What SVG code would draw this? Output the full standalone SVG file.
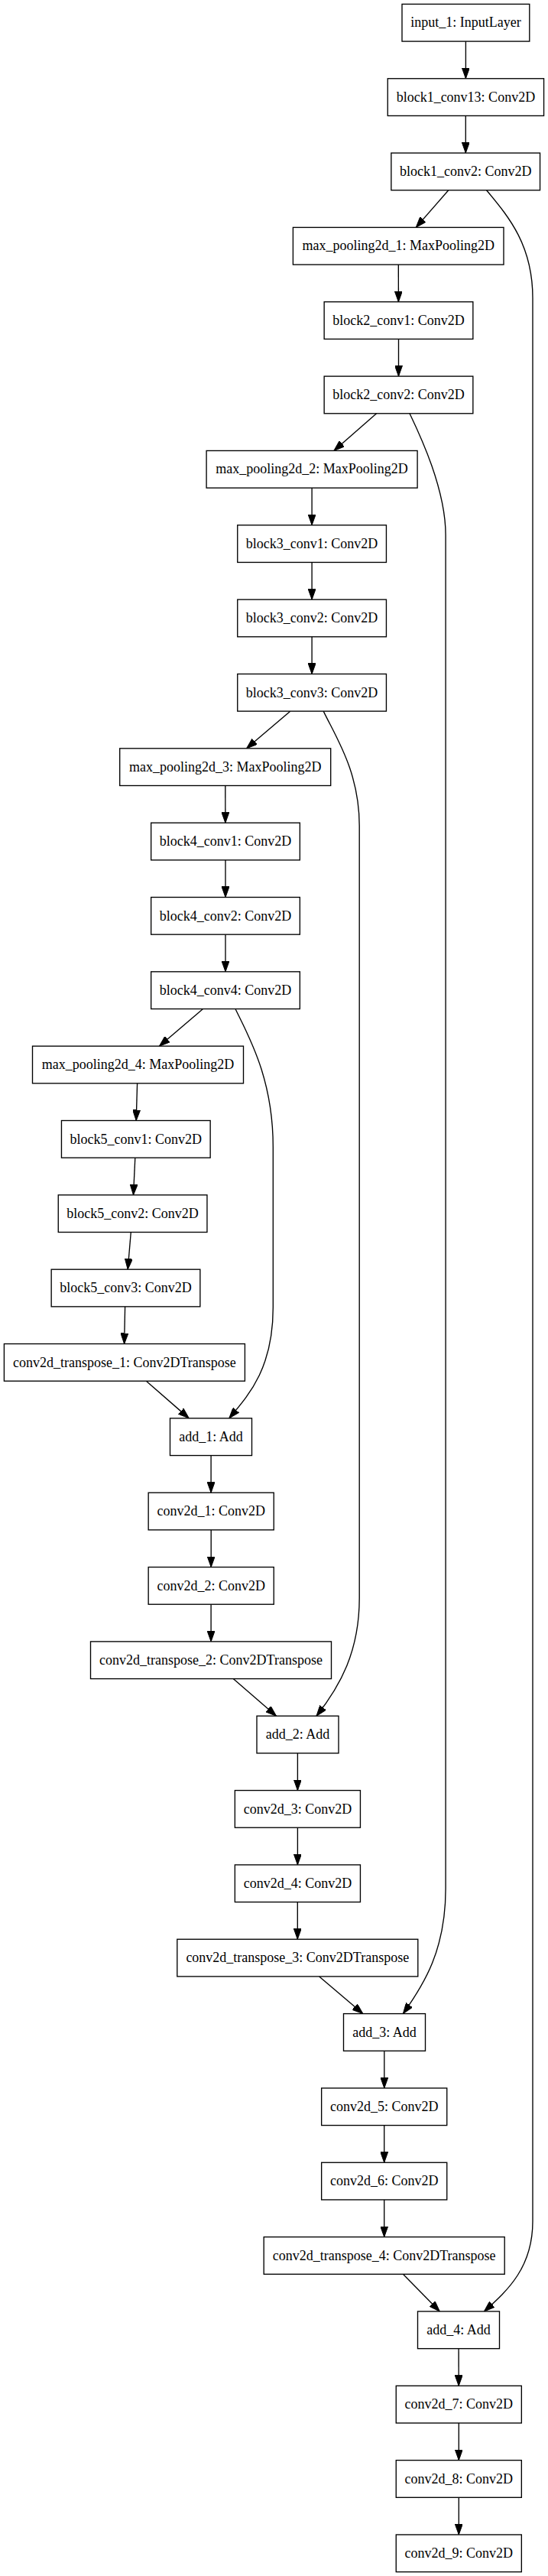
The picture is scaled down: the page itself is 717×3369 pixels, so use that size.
<svg xmlns="http://www.w3.org/2000/svg" width="717" height="3369" viewBox="0 0 717 3369">
<style>
rect.n{fill:#fff;stroke:#000;stroke-width:1.35}
text{font-family:"Liberation Serif","Times New Roman",serif;font-size:18px;fill:#000;text-anchor:middle}
.e path{fill:none;stroke:#000;stroke-width:1.35;marker-end:url(#ah)}
</style>
<defs>
<marker id="ah" markerUnits="userSpaceOnUse" markerWidth="14" markerHeight="10" viewBox="0 0 14 10" refX="14" refY="5" orient="auto">
<path d="M0,0 L14,5 L0,10 z" fill="#000" stroke="#000" stroke-width="1"/>
</marker>
</defs>
<rect width="717" height="3369" fill="#fff"/>
<g id="edges" class="e">
<path d="M609.4,54.08 L609.4,102.75"/>
<path d="M609.3,151.42 L609.3,200.09"/>
<path d="M586.8,248.76 L544.3,297.43"/>
<path d="M636.6,248.76 C665,283 697,320 697,390 L697,2905 C697,2965 665,2995 633.4,3022.95"/>
<path d="M521.3,346.1 L521.4,394.77"/>
<path d="M521.5,443.44 L521.5,492.11"/>
<path d="M492.6,540.78 L436.9,589.45"/>
<path d="M536,540.78 C550,570 583.1,640 583.1,700 L583.1,2470 C583.1,2550 555,2595 527.4,2633.59"/>
<path d="M408.1,638.12 L408.1,686.79"/>
<path d="M408.1,735.46 L408.1,784.13"/>
<path d="M408.1,832.8 L408.1,881.47"/>
<path d="M379.7,930.14 L322.6,978.81"/>
<path d="M423.2,930.14 C440,965 470.2,1010 470.2,1080 L470.2,2090 C470.2,2160 445,2205 414,2244.23"/>
<path d="M294.8,1027.48 L294.9,1076.15"/>
<path d="M295,1124.82 L295,1173.49"/>
<path d="M295,1222.16 L295,1270.83"/>
<path d="M265.5,1319.5 L208.4,1368.17"/>
<path d="M308,1319.5 C325,1355 357.3,1410 357.3,1500 L357.3,1710 C357.3,1790 325,1825 299.8,1854.87"/>
<path d="M179.6,1416.84 L178.2,1465.51"/>
<path d="M176.8,1514.18 L174.5,1562.85"/>
<path d="M171.3,1611.52 L167.2,1660.19"/>
<path d="M163.6,1708.86 L162.6,1757.53"/>
<path d="M191.4,1806.2 L247.2,1854.87"/>
<path d="M276.1,1903.54 L276.1,1952.21"/>
<path d="M276.2,2000.88 L276.2,2049.55"/>
<path d="M276.1,2098.22 L276.1,2146.89"/>
<path d="M305.2,2195.56 L361.5,2244.23"/>
<path d="M389.4,2292.9 L389.4,2341.57"/>
<path d="M389.4,2390.24 L389.4,2438.91"/>
<path d="M389.3,2487.58 L389.3,2536.25"/>
<path d="M417.7,2584.92 L474.8,2633.59"/>
<path d="M502.8,2682.26 L502.8,2730.93"/>
<path d="M502.7,2779.6 L502.7,2828.27"/>
<path d="M502.7,2876.94 L502.7,2925.61"/>
<path d="M527.4,2974.28 L575.3,3022.95"/>
<path d="M600.1,3071.62 L600.2,3120.29"/>
<path d="M600.3,3168.96 L600.3,3217.63"/>
<path d="M600.3,3266.3 L600.3,3314.97"/>
</g>
<g id="input_1"><rect class="n" x="526" y="5.41" width="166.8" height="48.67"/><text x="609.4" y="35.44">input_1: InputLayer</text></g>
<g id="block1_conv13"><rect class="n" x="507.25" y="102.75" width="204.3" height="48.67"/><text x="609.4" y="132.78">block1_conv13: Conv2D</text></g>
<g id="block1_conv2"><rect class="n" x="511.85" y="200.09" width="194.7" height="48.67"/><text x="609.2" y="230.12">block1_conv2: Conv2D</text></g>
<g id="max_pooling2d_1"><rect class="n" x="383.4" y="297.43" width="275.6" height="48.67"/><text x="521.2" y="327.46">max_pooling2d_1: MaxPooling2D</text></g>
<g id="block2_conv1"><rect class="n" x="424.15" y="394.77" width="194.7" height="48.67"/><text x="521.5" y="424.8">block2_conv1: Conv2D</text></g>
<g id="block2_conv2"><rect class="n" x="424.15" y="492.11" width="194.7" height="48.67"/><text x="521.5" y="522.14">block2_conv2: Conv2D</text></g>
<g id="max_pooling2d_2"><rect class="n" x="270.1" y="589.45" width="276" height="48.67"/><text x="408.1" y="619.48">max_pooling2d_2: MaxPooling2D</text></g>
<g id="block3_conv1"><rect class="n" x="310.75" y="686.79" width="194.7" height="48.67"/><text x="408.1" y="716.82">block3_conv1: Conv2D</text></g>
<g id="block3_conv2"><rect class="n" x="310.75" y="784.13" width="194.7" height="48.67"/><text x="408.1" y="814.16">block3_conv2: Conv2D</text></g>
<g id="block3_conv3"><rect class="n" x="310.75" y="881.47" width="194.7" height="48.67"/><text x="408.1" y="911.5">block3_conv3: Conv2D</text></g>
<g id="max_pooling2d_3"><rect class="n" x="156.7" y="978.81" width="276" height="48.67"/><text x="294.7" y="1008.84">max_pooling2d_3: MaxPooling2D</text></g>
<g id="block4_conv1"><rect class="n" x="197.65" y="1076.15" width="194.7" height="48.67"/><text x="295" y="1106.18">block4_conv1: Conv2D</text></g>
<g id="block4_conv2"><rect class="n" x="197.65" y="1173.49" width="194.7" height="48.67"/><text x="295" y="1203.52">block4_conv2: Conv2D</text></g>
<g id="block4_conv4"><rect class="n" x="197.65" y="1270.83" width="194.7" height="48.67"/><text x="295" y="1300.86">block4_conv4: Conv2D</text></g>
<g id="max_pooling2d_4"><rect class="n" x="42.5" y="1368.17" width="276" height="48.67"/><text x="180.5" y="1398.2">max_pooling2d_4: MaxPooling2D</text></g>
<g id="block5_conv1"><rect class="n" x="80.45" y="1465.51" width="194.7" height="48.67"/><text x="177.8" y="1495.54">block5_conv1: Conv2D</text></g>
<g id="block5_conv2"><rect class="n" x="76.25" y="1562.85" width="194.7" height="48.67"/><text x="173.6" y="1592.88">block5_conv2: Conv2D</text></g>
<g id="block5_conv3"><rect class="n" x="67.15" y="1660.19" width="194.7" height="48.67"/><text x="164.5" y="1690.22">block5_conv3: Conv2D</text></g>
<g id="conv2d_transpose_1"><rect class="n" x="5.4" y="1757.53" width="315" height="48.67"/><text x="162.9" y="1787.56">conv2d_transpose_1: Conv2DTranspose</text></g>
<g id="add_1"><rect class="n" x="222.5" y="1854.87" width="107" height="48.67"/><text x="276" y="1884.9">add_1: Add</text></g>
<g id="conv2d_1"><rect class="n" x="194.15" y="1952.21" width="164.1" height="48.67"/><text x="276.2" y="1982.24">conv2d_1: Conv2D</text></g>
<g id="conv2d_2"><rect class="n" x="194.15" y="2049.55" width="164.1" height="48.67"/><text x="276.2" y="2079.58">conv2d_2: Conv2D</text></g>
<g id="conv2d_transpose_2"><rect class="n" x="118.5" y="2146.89" width="315" height="48.67"/><text x="276" y="2176.92">conv2d_transpose_2: Conv2DTranspose</text></g>
<g id="add_2"><rect class="n" x="336" y="2244.23" width="107" height="48.67"/><text x="389.5" y="2274.26">add_2: Add</text></g>
<g id="conv2d_3"><rect class="n" x="307.35" y="2341.57" width="164.1" height="48.67"/><text x="389.4" y="2371.6">conv2d_3: Conv2D</text></g>
<g id="conv2d_4"><rect class="n" x="307.35" y="2438.91" width="164.1" height="48.67"/><text x="389.4" y="2468.94">conv2d_4: Conv2D</text></g>
<g id="conv2d_transpose_3"><rect class="n" x="231.8" y="2536.25" width="315" height="48.67"/><text x="389.3" y="2566.28">conv2d_transpose_3: Conv2DTranspose</text></g>
<g id="add_3"><rect class="n" x="449.5" y="2633.59" width="107" height="48.67"/><text x="503" y="2663.62">add_3: Add</text></g>
<g id="conv2d_5"><rect class="n" x="420.65" y="2730.93" width="164.1" height="48.67"/><text x="502.7" y="2760.96">conv2d_5: Conv2D</text></g>
<g id="conv2d_6"><rect class="n" x="420.65" y="2828.27" width="164.1" height="48.67"/><text x="502.7" y="2858.3">conv2d_6: Conv2D</text></g>
<g id="conv2d_transpose_4"><rect class="n" x="345.2" y="2925.61" width="315" height="48.67"/><text x="502.7" y="2955.64">conv2d_transpose_4: Conv2DTranspose</text></g>
<g id="add_4"><rect class="n" x="546.5" y="3022.95" width="107" height="48.67"/><text x="600" y="3052.98">add_4: Add</text></g>
<g id="conv2d_7"><rect class="n" x="518.25" y="3120.29" width="164.1" height="48.67"/><text x="600.3" y="3150.32">conv2d_7: Conv2D</text></g>
<g id="conv2d_8"><rect class="n" x="518.25" y="3217.63" width="164.1" height="48.67"/><text x="600.3" y="3247.66">conv2d_8: Conv2D</text></g>
<g id="conv2d_9"><rect class="n" x="518.25" y="3314.97" width="164.1" height="48.67"/><text x="600.3" y="3345">conv2d_9: Conv2D</text></g>
</svg>
